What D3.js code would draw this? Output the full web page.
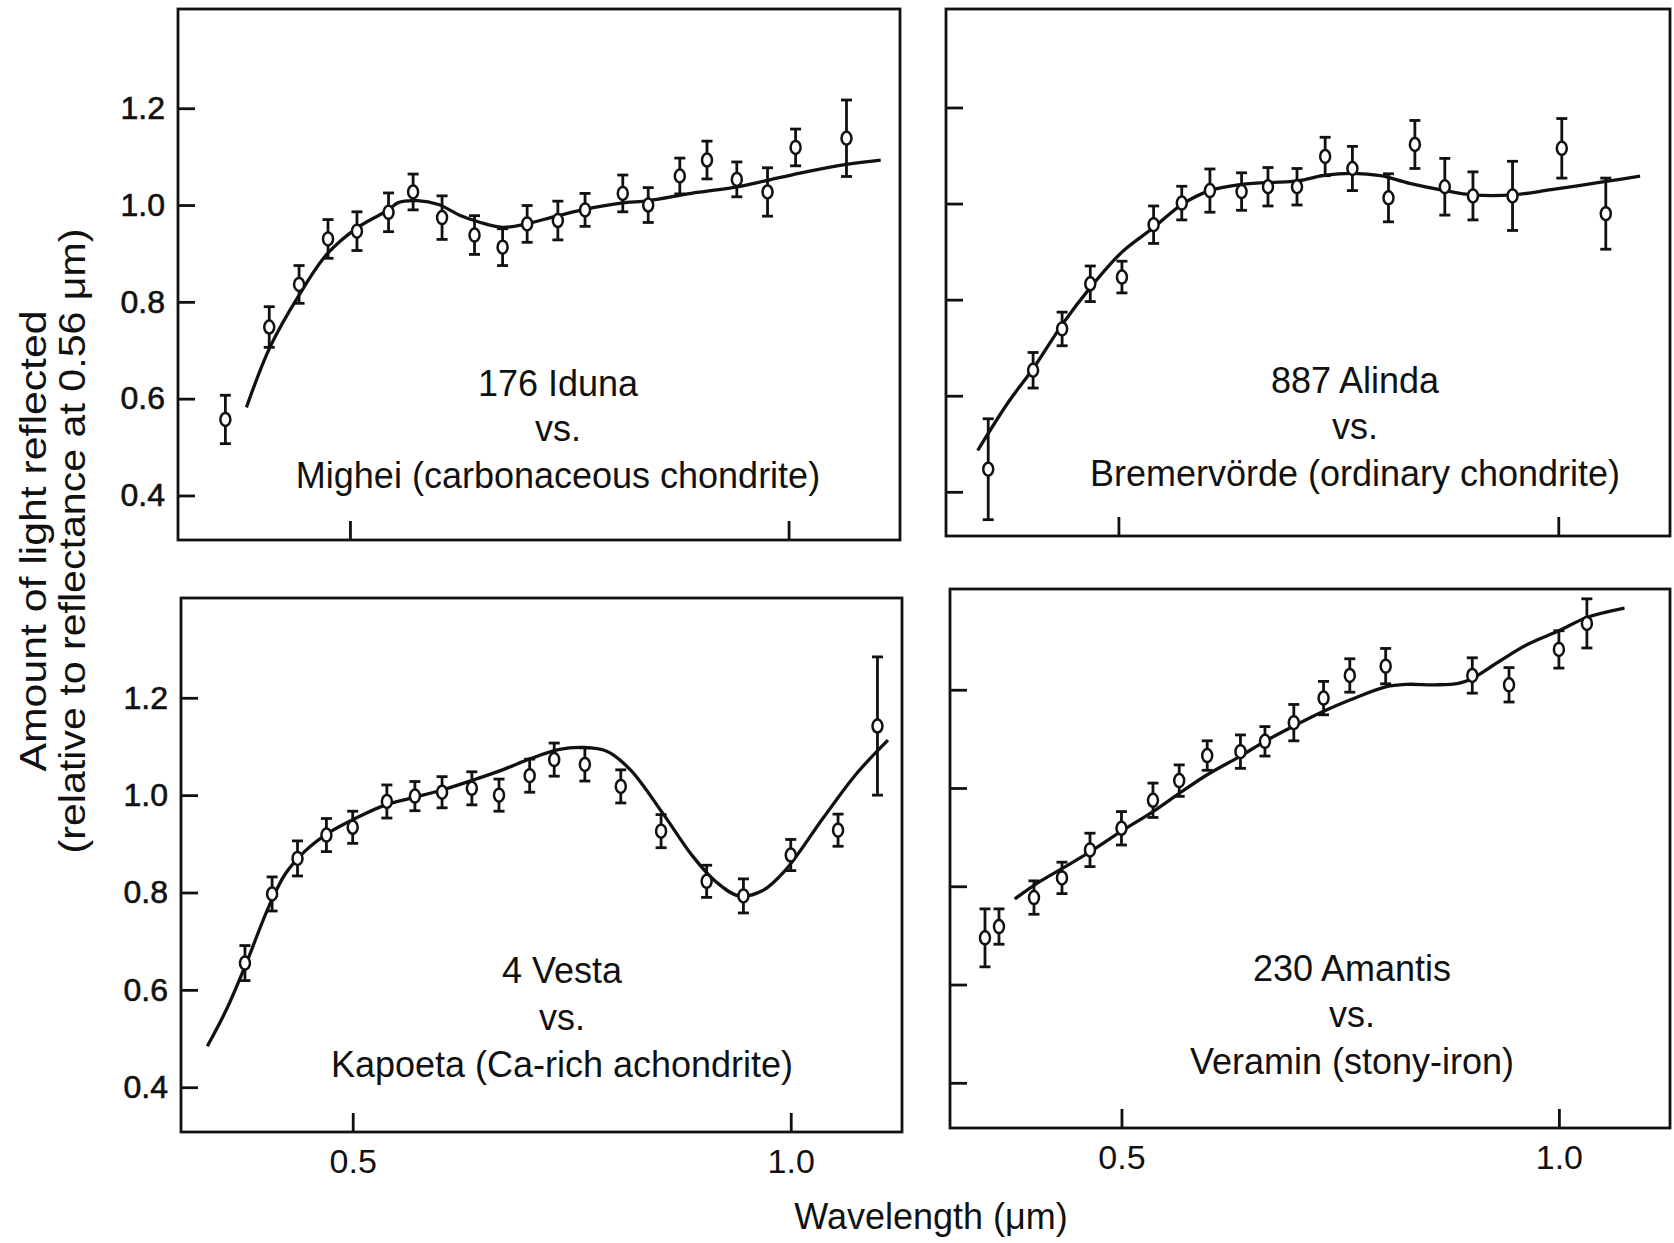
<!DOCTYPE html>
<html>
<head>
<meta charset="utf-8">
<script src="https://cdn.jsdelivr.net/npm/d3@7"></script>
<style>
  body { margin: 0; background: #fff; }
  svg { display: block; }
  text { font-family: "Liberation Sans", Arial, sans-serif; fill: #111; }
</style>
</head>
<body>
<svg id="fig" width="1674" height="1243"></svg>
<script>
'use strict';

// 176 Iduna (points) vs Mighei (curve)
const idunaWl   = [0.358, 0.408, 0.442, 0.475, 0.508, 0.544, 0.572, 0.605, 0.642, 0.674, 0.702, 0.737, 0.768, 0.811, 0.840, 0.876, 0.907, 0.941, 0.976, 1.008, 1.066];
const idunaRefl = [0.557, 0.748, 0.836, 0.930, 0.946, 0.985, 1.027, 0.974, 0.938, 0.913, 0.961, 0.968, 0.990, 1.024, 1.000, 1.060, 1.093, 1.053, 1.027, 1.119, 1.138];
const idunaErr  = [0.050, 0.042, 0.039, 0.040, 0.040, 0.040, 0.037, 0.045, 0.040, 0.038, 0.038, 0.040, 0.034, 0.038, 0.036, 0.037, 0.039, 0.036, 0.050, 0.038, 0.079];
const migheiWl   = [0.382, 0.409, 0.442, 0.474, 0.509, 0.544, 0.555, 0.577, 0.601, 0.625, 0.647, 0.674, 0.701, 0.733, 0.765, 0.809, 0.841, 0.889, 0.943, 0.976, 1.013, 1.066, 1.105];
const migheiRefl = [0.582, 0.707, 0.814, 0.899, 0.954, 0.990, 1.005, 1.009, 1.001, 0.979, 0.965, 0.954, 0.961, 0.976, 0.990, 1.004, 1.009, 1.024, 1.038, 1.051, 1.066, 1.084, 1.093];

// 887 Alinda vs Bremervörde
const alindaWl   = [0.352, 0.403, 0.436, 0.468, 0.504, 0.540, 0.572, 0.604, 0.640, 0.670, 0.703, 0.735, 0.766, 0.807, 0.837, 0.871, 0.903, 0.948, 1.004, 1.054];
const alindaRefl = [0.447, 0.653, 0.739, 0.833, 0.847, 0.956, 1.001, 1.027, 1.025, 1.035, 1.035, 1.098, 1.073, 1.012, 1.123, 1.035, 1.016, 1.016, 1.115, 0.979];
const alindaErr  = [0.105, 0.037, 0.035, 0.037, 0.033, 0.039, 0.035, 0.045, 0.039, 0.040, 0.038, 0.040, 0.046, 0.050, 0.050, 0.059, 0.050, 0.072, 0.062, 0.074];
const bremerWl   = [0.340, 0.375, 0.403, 0.436, 0.468, 0.504, 0.540, 0.572, 0.604, 0.640, 0.703, 0.735, 0.766, 0.798, 0.831, 0.871, 0.903, 0.948, 0.992, 1.054, 1.093];
const bremerRefl = [0.486, 0.587, 0.656, 0.748, 0.825, 0.899, 0.950, 0.998, 1.027, 1.040, 1.047, 1.059, 1.063, 1.058, 1.042, 1.027, 1.018, 1.018, 1.029, 1.046, 1.057];

// 4 Vesta vs Kapoeta
const vestaWl   = [0.377, 0.408, 0.437, 0.470, 0.500, 0.539, 0.571, 0.602, 0.636, 0.667, 0.702, 0.730, 0.765, 0.806, 0.852, 0.904, 0.946, 1.000, 1.054, 1.099];
const vestaRefl = [0.655, 0.797, 0.870, 0.918, 0.934, 0.987, 0.998, 1.006, 1.014, 1.000, 1.040, 1.073, 1.063, 1.018, 0.926, 0.823, 0.793, 0.877, 0.928, 1.142];
const vestaErr  = [0.036, 0.035, 0.036, 0.034, 0.033, 0.034, 0.030, 0.032, 0.034, 0.033, 0.034, 0.034, 0.034, 0.034, 0.034, 0.033, 0.035, 0.032, 0.033, 0.142];
const kapoetaWl   = [0.334, 0.356, 0.377, 0.404, 0.423, 0.445, 0.472, 0.504, 0.536, 0.569, 0.601, 0.634, 0.671, 0.703, 0.736, 0.763, 0.790, 0.817, 0.855, 0.887, 0.914, 0.941, 0.968, 0.994, 1.037, 1.075, 1.111];
const kapoetaRefl = [0.484, 0.560, 0.648, 0.770, 0.838, 0.884, 0.922, 0.953, 0.979, 0.995, 1.010, 1.029, 1.052, 1.075, 1.094, 1.098, 1.090, 1.052, 0.960, 0.877, 0.823, 0.793, 0.804, 0.846, 0.953, 1.044, 1.113];

// 230 Amantis vs Veramin
const amantisWl   = [0.344, 0.360, 0.400, 0.432, 0.464, 0.500, 0.536, 0.566, 0.598, 0.636, 0.664, 0.697, 0.731, 0.761, 0.802, 0.901, 0.943, 1.000, 1.032];
const amantisRefl = [0.695, 0.718, 0.777, 0.817, 0.874, 0.918, 0.975, 1.015, 1.066, 1.074, 1.095, 1.133, 1.183, 1.229, 1.248, 1.229, 1.210, 1.282, 1.335];
const amantisErr  = [0.059, 0.036, 0.034, 0.032, 0.034, 0.034, 0.035, 0.032, 0.030, 0.034, 0.030, 0.037, 0.034, 0.034, 0.036, 0.036, 0.035, 0.038, 0.050];
const veraminWl   = [0.378, 0.400, 0.432, 0.464, 0.500, 0.536, 0.566, 0.598, 0.636, 0.664, 0.697, 0.731, 0.761, 0.802, 0.826, 0.858, 0.885, 0.901, 0.933, 0.965, 1.000, 1.032, 1.075];
const veraminRefl = [0.774, 0.802, 0.836, 0.870, 0.912, 0.952, 0.989, 1.027, 1.065, 1.095, 1.126, 1.156, 1.179, 1.206, 1.211, 1.210, 1.213, 1.223, 1.259, 1.293, 1.320, 1.347, 1.366];

const xTicks = [0.5, 1.0];
const yTicks = [0.4, 0.6, 0.8, 1.0, 1.2];
const xDomain = [0.304, 1.127];
const yDomain = [0.308, 1.405];

const panels = [
  {box: {x: 178, y: 9, w: 722, h: 531}, yLabels: true, xLabels: false,
   wl: idunaWl, refl: idunaRefl, err: idunaErr, cWl: migheiWl, cRefl: migheiRefl,
   lines: ['176 Iduna', 'vs.', 'Mighei (carbonaceous chondrite)'], tx: 558, ty: [396, 441, 488]},
  {box: {x: 946, y: 9, w: 724, h: 527}, yLabels: false, xLabels: false,
   wl: alindaWl, refl: alindaRefl, err: alindaErr, cWl: bremerWl, cRefl: bremerRefl,
   lines: ['887 Alinda', 'vs.', 'Bremervörde (ordinary chondrite)'], tx: 1355, ty: [393, 439, 486]},
  {box: {x: 181, y: 598, w: 721, h: 534}, yLabels: true, xLabels: true,
   wl: vestaWl, refl: vestaRefl, err: vestaErr, cWl: kapoetaWl, cRefl: kapoetaRefl,
   lines: ['4 Vesta', 'vs.', 'Kapoeta (Ca-rich achondrite)'], tx: 562, ty: [983, 1030, 1077]},
  {box: {x: 950, y: 589, w: 720, h: 539}, yLabels: false, xLabels: true,
   wl: amantisWl, refl: amantisRefl, err: amantisErr, cWl: veraminWl, cRefl: veraminRefl,
   lines: ['230 Amantis', 'vs.', 'Veramin (stony-iron)'], tx: 1352, ty: [981, 1027, 1074]}
];

const svg = d3.select('#fig');
svg.append('rect').attr('width', 1674).attr('height', 1243).attr('fill', '#fff');

panels.forEach(p => {
  const b = p.box;
  const x = d3.scaleLinear().domain(xDomain).range([b.x, b.x + b.w]);
  const y = d3.scaleLinear().domain(yDomain).range([b.y + b.h, b.y]);
  const g = svg.append('g');

  // y axis, ticks pointing inward
  const yAxis = g.append('g')
    .attr('transform', `translate(${b.x},0)`)
    .call(d3.axisLeft(y).tickValues(yTicks).tickSize(-17).tickSizeOuter(0).tickPadding(13)
      .tickFormat(p.yLabels ? d3.format('.1f') : () => ''));
  yAxis.select('.domain').remove();
  yAxis.selectAll('line').attr('stroke', '#111').attr('stroke-width', 2.8);
  yAxis.selectAll('text').attr('font-size', 32).attr('fill', '#111')
    .attr('stroke', '#111').attr('stroke-width', 0.6)
    .style('font-family', '"Liberation Sans", Arial, sans-serif');

  const xAxis = g.append('g')
    .attr('transform', `translate(0,${b.y + b.h})`)
    .call(d3.axisBottom(x).tickValues(xTicks).tickSize(-19).tickSizeOuter(0).tickPadding(17)
      .tickFormat(p.xLabels ? d3.format('.1f') : () => ''));
  xAxis.select('.domain').remove();
  xAxis.selectAll('line').attr('stroke', '#111').attr('stroke-width', 2.8);
  xAxis.selectAll('text').attr('font-size', 34).attr('fill', '#111')
    .style('font-family', '"Liberation Sans", Arial, sans-serif');

  g.append('rect')
    .attr('x', b.x).attr('y', b.y).attr('width', b.w).attr('height', b.h)
    .attr('fill', 'none').attr('stroke', '#111').attr('stroke-width', 2.8);

  // meteorite reference curve
  const curvePts = p.cWl.map((w, i) => [w, p.cRefl[i]]);
  g.append('path')
    .datum(curvePts)
    .attr('fill', 'none')
    .attr('stroke', '#111')
    .attr('stroke-width', 3.3)
    .attr('d', d3.line().x(d => x(d[0])).y(d => y(d[1])).curve(d3.curveCatmullRom));

  // asteroid points with error bars
  const pts = p.wl.map((w, i) => ({w: w, r: p.refl[i], e: p.err[i]}));
  const eb = g.selectAll('.eb').data(pts).enter().append('g').attr('class', 'eb');
  eb.append('line')
    .attr('x1', d => x(d.w)).attr('x2', d => x(d.w))
    .attr('y1', d => y(d.r + d.e)).attr('y2', d => y(d.r - d.e))
    .attr('stroke', '#111').attr('stroke-width', 2.8);
  [1, -1].forEach(s => {
    eb.append('line')
      .attr('x1', d => x(d.w) - 5.5).attr('x2', d => x(d.w) + 5.5)
      .attr('y1', d => y(d.r + s * d.e)).attr('y2', d => y(d.r + s * d.e))
      .attr('stroke', '#111').attr('stroke-width', 2.8);
  });
  eb.append('ellipse')
    .attr('cx', d => x(d.w)).attr('cy', d => y(d.r))
    .attr('rx', 5).attr('ry', 6.5)
    .attr('fill', '#fff').attr('stroke', '#111').attr('stroke-width', 2.5);

  // panel caption
  g.selectAll('.cap').data(p.lines).enter().append('text')
    .attr('x', p.tx).attr('y', (d, i) => p.ty[i])
    .attr('text-anchor', 'middle')
    .attr('font-size', 36)
    .text(d => d);
});

// axis titles
svg.append('text')
  .attr('x', 931).attr('y', 1229)
  .attr('text-anchor', 'middle').attr('font-size', 36)
  .text('Wavelength (μm)');

const yTitle = [
  {t: 'Amount of light reflected', x: 46, len: 461},
  {t: '(relative to reflectance at 0.56 μm)', x: 85, len: 625}
];
yTitle.forEach(l => {
  svg.append('text')
    .attr('transform', `translate(${l.x},541) rotate(-90)`)
    .attr('text-anchor', 'middle')
    .attr('font-size', 37)
    .attr('textLength', l.len)
    .attr('lengthAdjust', 'spacingAndGlyphs')
    .text(l.t);
});
</script>
</body>
</html>
